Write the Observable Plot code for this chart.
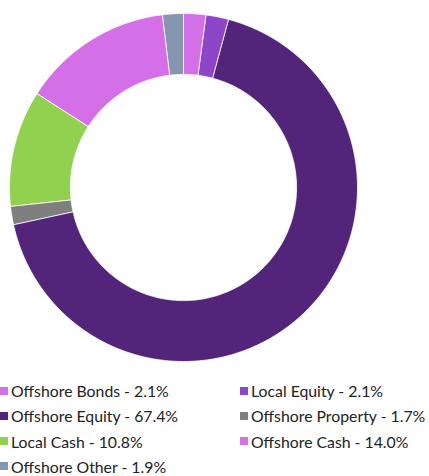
<!DOCTYPE html>
<html><head><meta charset="utf-8">
<script src="https://cdn.jsdelivr.net/npm/d3@7"></script>
<script src="https://cdn.jsdelivr.net/npm/@observablehq/plot@0.6"></script>
<style>
body{margin:0;background:#fff;font-family:Lato,"Open Sans",sans-serif;}
#legend{position:relative;width:429px;height:101px;}
.item{position:absolute;display:flex;align-items:center;font-size:15.8px;color:#222;white-space:nowrap;}
.sw{width:8px;height:8px;margin-right:3px;}
</style>
</head><body>
<div id="chart"></div>
<div id="legend"></div>
<script>
const categories = ["Offshore Bonds","Local Equity","Offshore Equity","Offshore Property","Local Cash","Offshore Cash","Offshore Other"];
const values = [2.1, 2.1, 67.4, 1.7, 10.8, 14.0, 1.9];
const labels = ["Offshore Bonds - 2.1%","Local Equity - 2.1%","Offshore Equity - 67.4%","Offshore Property - 1.7%","Local Cash - 10.8%","Offshore Cash - 14.0%","Offshore Other - 1.9%"];
const colors = ["#d46fe8","#8e46c8","#52257a","#7f7f7f","#92d050","#d56fe8","#8596b0"];

const inner = 0.65;
const total = d3.sum(values);
const pts = [];
let acc = 0;
categories.forEach((c, i) => {
  const a0 = acc / total * 2 * Math.PI;
  acc += values[i];
  const a1 = acc / total * 2 * Math.PI;
  const n = Math.max(4, Math.ceil((a1 - a0) / 0.01));
  for (let k = 0; k <= n; k++) {
    const a = a0 + (a1 - a0) * k / n;
    pts.push({cat: c, x: Math.sin(a), y: Math.cos(a)});
  }
  for (let k = n; k >= 0; k--) {
    const a = a0 + (a1 - a0) * k / n;
    pts.push({cat: c, x: inner * Math.sin(a), y: inner * Math.cos(a)});
  }
});

const W = 429, H = 375, cx = 183, cy = 187, R = 174;
const plot = Plot.plot({
  width: W, height: H,
  margin: 0,
  x: {domain: [-cx / R, (W - cx) / R], axis: null},
  y: {domain: [-(H - cy) / R, cy / R], axis: null},
  color: {domain: categories, range: colors},
  marks: [
    Plot.line(pts, {x: "x", y: "y", z: "cat", fill: "cat", stroke: "white", strokeWidth: 0.8, curve: "linear-closed"})
  ]
});
document.getElementById("chart").appendChild(plot);

const lg = document.getElementById("legend");
const pos = [[0,0],[1,0],[0,1],[1,1],[0,2],[1,2],[0,3]];
labels.forEach((t, i) => {
  const d = document.createElement("div");
  d.className = "item";
  d.style.left = (pos[i][0] ? 240 : 0) + "px";
  d.style.top = (6 + pos[i][1] * 25.3) + "px";
  d.innerHTML = `<span class="sw" style="background:${colors[i]}"></span><span>${t}</span>`;
  lg.appendChild(d);
});
</script>
</body></html>
